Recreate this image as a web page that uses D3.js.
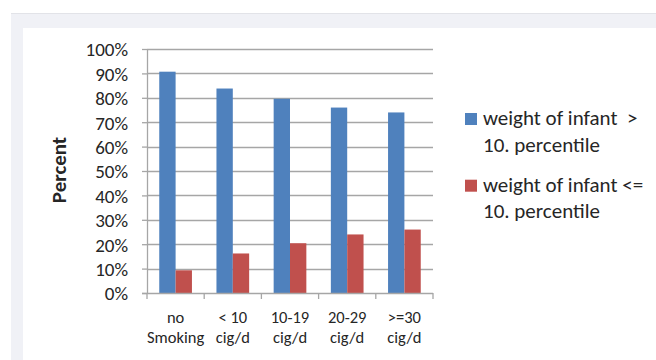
<!DOCTYPE html>
<html><head><meta charset="utf-8">
<script src="https://cdn.jsdelivr.net/npm/d3@7"></script>
<style>
html,body{margin:0;padding:0;background:#fff;}
svg{display:block;}
text{font-family:Carlito,Calibri,Lato,"Open Sans",sans-serif;fill:#262626;}
</style></head>
<body><svg id="c" width="656" height="360"></svg>
<script>
const categories = [["no","Smoking"],["< 10","cig/d"],["10-19","cig/d"],["20-29","cig/d"],[">=30","cig/d"]];
const seriesNames = [["weight of infant  >","10. percentile"],["weight of infant <=","10. percentile"]];
const above = [0.907, 0.838, 0.796, 0.760, 0.740];
const below = [0.093, 0.162, 0.204, 0.240, 0.260];
const yTicks = [0,0.1,0.2,0.3,0.4,0.5,0.6,0.7,0.8,0.9,1.0];
const colors = ["#4F81BD","#C0504D"];

const svg = d3.select("#c");
// background frame
svg.append("rect").attr("x",11).attr("y",13).attr("width",645).attr("height",347).attr("fill","#F0F1F6");
svg.append("line").attr("x1",11).attr("x2",656).attr("y1",13.5).attr("y2",13.5).attr("stroke","#E2E3E8");
svg.append("rect").attr("x",23).attr("y",28).attr("width",633).attr("height",332).attr("fill","#fff");

const x0 = d3.scaleBand().domain(d3.range(categories.length)).range([147,433]).paddingInner(0).paddingOuter(0);
const x1 = d3.scaleBand().domain([0,1]).range([0,x0.bandwidth()]).paddingInner(0).paddingOuter(0.75);
const y = d3.scaleLinear().domain([0,1]).range([293,49]);

// gridlines
svg.append("g").selectAll("line").data(yTicks.slice(1)).join("line")
  .attr("x1",147).attr("x2",433).attr("y1",d=>Math.round(y(d))+0.5).attr("y2",d=>Math.round(y(d))+0.5)
  .attr("stroke","#A6A6A6").attr("stroke-width",1.3);

// bars
const data = [above, below];
data.forEach((s,si)=>{
  svg.append("g").selectAll("rect").data(s).join("rect")
    .attr("x",(d,i)=>x0(i)+x1(si))
    .attr("width",x1.bandwidth())
    .attr("y",d=>y(d))
    .attr("height",d=>y(0)-y(d))
    .attr("fill",colors[si]);
});

// y axis
const yAxis = d3.axisLeft(y).tickValues(yTicks).tickFormat(d3.format(".0%")).tickSize(5).tickPadding(14);
const gy = svg.append("g").attr("transform","translate(147,0)").call(yAxis);
gy.select(".domain").attr("stroke","#A6A6A6").attr("stroke-width",1.3).attr("d","M0.5,49V293");
gy.selectAll(".tick line").attr("stroke","#A6A6A6").attr("stroke-width",1.3);
gy.selectAll(".tick text").style("font-size","19px").style("font-family","Carlito,Calibri,Lato,sans-serif").attr("fill","#262626").attr("dy","0.36em");

// x axis
const gx = svg.append("g").attr("transform","translate(0,293)");
gx.append("line").attr("x1",142).attr("x2",433).attr("y1",0.5).attr("y2",0.5).attr("stroke","#A6A6A6").attr("stroke-width",1.3);
gx.selectAll("line.t").data(d3.range(categories.length+1)).join("line").attr("class","t")
  .attr("x1",i=>i<categories.length?x0(i):433).attr("x2",i=>i<categories.length?x0(i):433)
  .attr("y1",0).attr("y2",6).attr("stroke","#A6A6A6").attr("stroke-width",1.3);
const lab = gx.selectAll("text.c").data(categories).join("text").attr("class","c")
  .attr("x",(d,i)=>x0(i)+x0.bandwidth()/2).attr("text-anchor","middle").style("font-size","16.5px");
lab.selectAll("tspan").data(d=>d).join("tspan")
  .attr("x",function(){return this.parentNode.getAttribute("x");})
  .attr("y",(d,j)=>30+j*20).text(d=>d);

// y title
svg.append("text").attr("transform","translate(66,170) rotate(-90)").attr("text-anchor","middle")
  .style("font-size","21px").style("font-weight","bold").text("Percent");

// legend
const lg = svg.append("g");
seriesNames.forEach((nm,i)=>{
  const ty = 125 + i*66.7;
  lg.append("rect").attr("x",465).attr("y",ty-12).attr("width",12).attr("height",12).attr("fill",colors[i]);
  const t = lg.append("text").style("font-size","21px");
  nm.forEach((line,j)=>t.append("tspan").attr("x",483).attr("y",ty+j*26.7).text(line).attr("xml:space","preserve").style("white-space","pre"));
});
</script></body></html>
